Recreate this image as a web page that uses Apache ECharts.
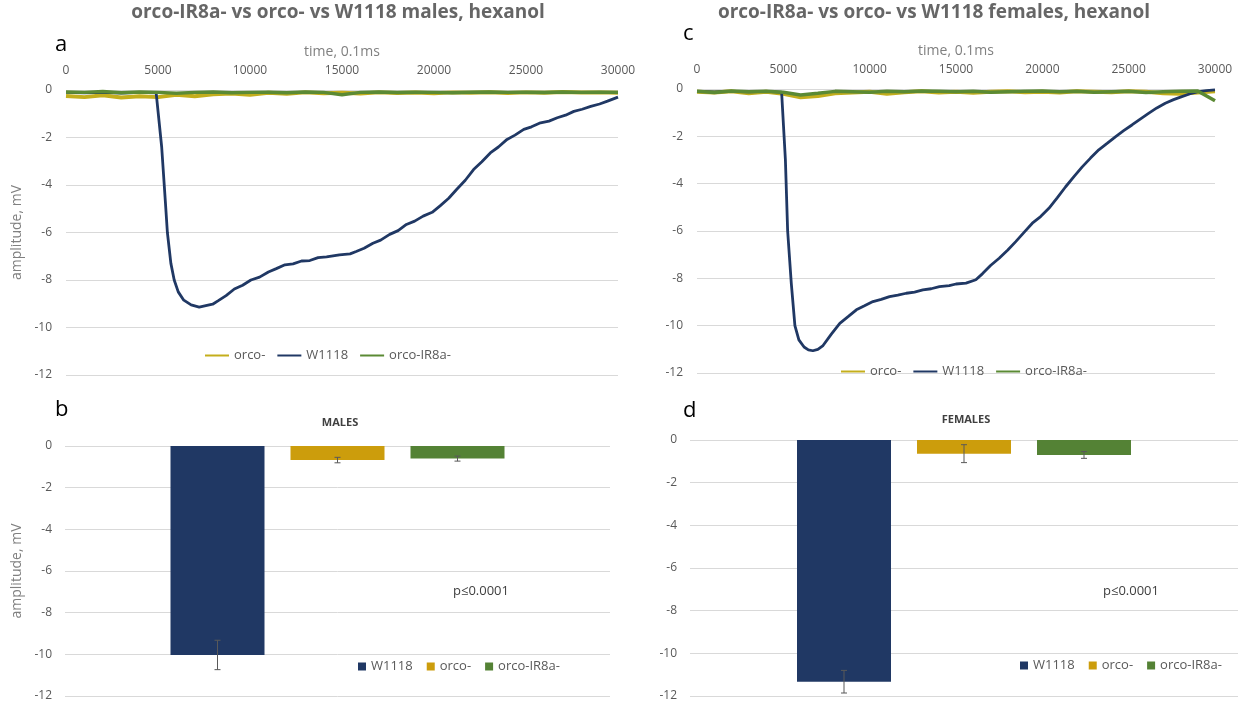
<!DOCTYPE html>
<html>
<head>
<meta charset="utf-8">
<script src="https://cdn.jsdelivr.net/npm/echarts@6/dist/echarts.min.js"></script>
<style>
html,body{margin:0;padding:0;background:#fff;}
#main{width:1248px;height:702px;}
</style>
</head>
<body>
<div id="main"></div>
<script>
// ---------- DATA ----------
const genotypes = ['W1118', 'orco-', 'orco-IR8a-'];

// W1118 trace, males (time in 0.1 ms, amplitude in mV)
const maleTime = [0,1000,2000,3000,4000,4900,5000,5200,5400,5510,5700,5880,6100,6400,6800,7240,7600,7970,8300,8700,9150,9600,10050,10520,11000,11430,11900,12340,12800,13250,13700,14160,14860,15440,15770,16200,16680,17100,17590,18050,18500,18950,19410,19900,20330,20800,21240,21700,22150,22600,23060,23500,23970,24400,24880,25300,25790,26250,26700,27150,27600,28050,28520,29000,29430,30000];
const maleW1118 = [-0.1,-0.12,-0.1,-0.13,-0.1,-0.12,-0.15,-2.4,-4.7,-6.0,-7.3,-8.0,-8.5,-8.85,-9.05,-9.14,-9.08,-9.02,-8.86,-8.66,-8.38,-8.22,-8.0,-7.88,-7.66,-7.52,-7.36,-7.32,-7.2,-7.18,-7.06,-7.03,-6.94,-6.9,-6.8,-6.66,-6.45,-6.32,-6.08,-5.92,-5.66,-5.52,-5.31,-5.15,-4.88,-4.56,-4.18,-3.8,-3.35,-3.02,-2.65,-2.4,-2.08,-1.9,-1.66,-1.55,-1.38,-1.31,-1.17,-1.06,-0.9,-0.81,-0.69,-0.59,-0.47,-0.3];

// W1118 trace, females
const femaleTime = [0,1000,2000,3000,4000,4900,5000,5120,5250,5460,5670,5900,6200,6450,6710,7000,7300,7780,8270,8750,9230,9700,10190,10670,11150,11630,12120,12600,13080,13560,14040,14610,15000,15580,16150,16540,17000,17500,18000,18460,18940,19420,19900,20380,20860,21350,21830,22310,22790,23270,23750,24230,24710,25190,25670,26150,26630,27120,27600,28080,28560,29040,29500,30000];
const femaleW1118 = [-0.1,-0.12,-0.1,-0.12,-0.1,-0.13,-0.15,-3.0,-6.0,-8.2,-10.0,-10.6,-10.9,-11.02,-11.06,-11.0,-10.84,-10.36,-9.9,-9.62,-9.33,-9.16,-8.98,-8.89,-8.77,-8.71,-8.63,-8.58,-8.49,-8.44,-8.35,-8.31,-8.24,-8.2,-8.06,-7.8,-7.46,-7.15,-6.8,-6.45,-6.06,-5.67,-5.39,-5.04,-4.6,-4.13,-3.7,-3.29,-2.92,-2.57,-2.3,-2.02,-1.76,-1.52,-1.27,-1.03,-0.8,-0.6,-0.45,-0.32,-0.2,-0.11,-0.07,-0.04];

// mutant traces (flat, noisy baselines)
const baseTime = [0,1000,2000,3000,4000,5000,6000,7000,8000,9000,10000,11000,12000,13000,14000,15000,16000,17000,18000,19000,20000,21000,22000,23000,24000,25000,26000,27000,28000,29000,30000];
const maleOrco = [-0.25,-0.3,-0.22,-0.32,-0.26,-0.3,-0.2,-0.26,-0.18,-0.15,-0.2,-0.12,-0.16,-0.1,-0.14,-0.12,-0.15,-0.1,-0.13,-0.11,-0.14,-0.1,-0.12,-0.09,-0.13,-0.1,-0.12,-0.08,-0.11,-0.1,-0.12];
const maleIR8a = [-0.08,-0.1,-0.06,-0.12,-0.08,-0.1,-0.14,-0.1,-0.08,-0.12,-0.1,-0.09,-0.12,-0.08,-0.1,-0.2,-0.1,-0.08,-0.11,-0.09,-0.1,-0.12,-0.09,-0.08,-0.1,-0.09,-0.11,-0.08,-0.1,-0.09,-0.1];
const femaleOrco = [-0.12,-0.15,-0.1,-0.18,-0.12,-0.2,-0.35,-0.3,-0.18,-0.15,-0.12,-0.2,-0.14,-0.1,-0.15,-0.12,-0.16,-0.12,-0.1,-0.14,-0.12,-0.15,-0.1,-0.12,-0.14,-0.1,-0.12,-0.18,-0.2,-0.15,-0.1];
const femaleIR8a = [-0.1,-0.15,-0.08,-0.12,-0.1,-0.14,-0.25,-0.18,-0.1,-0.12,-0.14,-0.1,-0.12,-0.08,-0.1,-0.12,-0.1,-0.14,-0.12,-0.1,-0.08,-0.12,-0.1,-0.14,-0.12,-0.1,-0.15,-0.12,-0.1,-0.08,-0.5];

// peak amplitudes (mean, error)
const maleMeans = [-9.95, -0.67, -0.6];
const maleErr = [0.7, 0.13, 0.12];
const femaleMeans = [-11.33, -0.64, -0.7];
const femaleErr = [0.53, 0.42, 0.16];

// ---------- STYLE ----------
const NAVY = '#203864', GOLD = '#cc9d0c', GREEN = '#548235';
const LINE_YEL = '#c4ae1c', LINE_GRN = '#5b8a34';
const FONT = '"Open Sans", Lato, sans-serif';
const AX = '#595959', GRIDC = '#d9d9d9';

function pair(t, v) { return t.map((x, i) => [x, v[i]]); }

const chart = echarts.init(document.getElementById('main'), null, {renderer: 'canvas'});

function traceX(grid) {
  return {
    type: 'value', gridIndex: grid, position: 'top', min: 0, max: 30000, interval: 5000,
    axisLine: {show: false}, axisTick: {show: false}, splitLine: {show: false},
    axisLabel: {color: AX, fontSize: 12, margin: 13, fontFamily: FONT, formatter: v => String(v)},
    name: 'time, 0.1ms', nameLocation: 'middle', nameGap: 31,
    nameTextStyle: {color: '#808080', fontSize: 14, fontFamily: FONT}
  };
}
function ampY(grid, withName, margin, gap) {
  return {
    type: 'value', gridIndex: grid, min: -12, max: 0, interval: 2,
    axisLine: {show: false}, axisTick: {show: false},
    axisLabel: {color: AX, fontSize: 12, margin: margin, fontFamily: FONT},
    splitLine: {lineStyle: {color: GRIDC, width: 1}},
    name: withName ? 'amplitude, mV' : '', nameLocation: 'middle', nameGap: gap, nameRotate: 90,
    nameTextStyle: {color: '#808080', fontSize: 14, fontFamily: FONT}
  };
}
function hiddenY(grid) {
  return {type: 'value', gridIndex: grid, min: -12, max: 0, interval: 2, show: false};
}
function barX(grid) {
  return {type: 'category', gridIndex: grid, data: genotypes, show: false};
}
function barSeries(means, xi, yi) {
  const cols = [NAVY, GOLD, GREEN];
  return genotypes.map((g, i) => ({
    type: 'bar', name: g, xAxisIndex: xi, yAxisIndex: yi, stack: 'b' + xi,
    barWidth: 94, itemStyle: {color: cols[i]},
    data: genotypes.map((_, j) => j === i ? means[j] : '-'),
    animation: false
  }));
}
function errSeries(means, errs, xi, yi) {
  return {
    type: 'custom', xAxisIndex: xi, yAxisIndex: yi, z: 10, animation: false,
    data: genotypes.map((g, i) => [i, means[i], errs[i]]),
    renderItem: function (params, api) {
      const x = api.value(0), m = api.value(1), e = api.value(2);
      const hi = api.coord([x, m + e]);
      const lo = api.coord([x, m - e]);
      const st = {stroke: '#595959', lineWidth: 1};
      return {type: 'group', children: [
        {type: 'line', shape: {x1: hi[0], y1: hi[1], x2: lo[0], y2: lo[1]}, style: st},
        {type: 'line', shape: {x1: hi[0] - 3, y1: hi[1], x2: hi[0] + 3, y2: hi[1]}, style: st},
        {type: 'line', shape: {x1: lo[0] - 3, y1: lo[1], x2: lo[0] + 3, y2: lo[1]}, style: st}
      ]};
    }
  };
}
function lineSeries(name, data, xi, color, width, z) {
  return {type: 'line', name: name, xAxisIndex: xi, yAxisIndex: xi, data: data,
    showSymbol: false, symbol: 'none', z: z, animation: false,
    lineStyle: {color: color, width: width}, itemStyle: {color: color}};
}
function txt(x, y, text, font, fill, align) {
  return {type: 'text', x: x, y: y, z: 100,
    style: {text: text, font: font, fill: fill, align: align || 'center', verticalAlign: 'middle'}};
}
const lineLegendItems = [
  {name: 'orco-', icon: 'rect', itemStyle: {color: LINE_YEL}},
  {name: 'W1118', icon: 'rect', itemStyle: {color: NAVY}},
  {name: 'orco-IR8a-', icon: 'rect', itemStyle: {color: LINE_GRN}}
];
const barLegendItems = [
  {name: 'W1118', icon: 'rect', itemStyle: {color: NAVY}},
  {name: 'orco-', icon: 'rect', itemStyle: {color: GOLD}},
  {name: 'orco-IR8a-', icon: 'rect', itemStyle: {color: GREEN}}
];
const legText = {color: AX, fontSize: 13, fontFamily: FONT};

const option = {
  backgroundColor: '#ffffff',
  animation: false,
  grid: [
    {left: 66, top: 90, width: 552, height: 285},
    {left: 697, top: 89, width: 518, height: 284},
    {left: 65, top: 446, width: 545, height: 252},
    {left: 690, top: 440, width: 548, height: 256},
    {left: 157.5, top: 446, width: 360, height: 252},
    {left: 784, top: 440, width: 360, height: 256}
  ],
  xAxis: [traceX(0), traceX(1), barX(2), barX(3), barX(4), barX(5)],
  yAxis: [ampY(0, true, 14, 42), ampY(1, false, 14, 40), ampY(2, true, 13, 41), ampY(3, false, 13, 40), hiddenY(4), hiddenY(5)],
  legend: [
    {data: lineLegendItems, left: 200, top: 344, itemWidth: 24, itemHeight: 2, itemGap: 12, textStyle: legText, selectedMode: false},
    {data: lineLegendItems, left: 836, top: 360, itemWidth: 24, itemHeight: 2, itemGap: 12, textStyle: legText, selectedMode: false},
    {data: barLegendItems, left: 353, top: 655, itemWidth: 8, itemHeight: 8, itemGap: 14, textStyle: legText, selectedMode: false},
    {data: barLegendItems, left: 1015, top: 654, itemWidth: 8, itemHeight: 8, itemGap: 14, textStyle: legText, selectedMode: false}
  ],
  series: [
    lineSeries('orco-', pair(baseTime, maleOrco), 0, LINE_YEL, 4, 2),
    lineSeries('W1118', pair(maleTime, maleW1118), 0, NAVY, 2.8, 3),
    lineSeries('orco-IR8a-', pair(baseTime, maleIR8a), 0, LINE_GRN, 3.5, 4),
    lineSeries('orco-', pair(baseTime, femaleOrco), 1, LINE_YEL, 4, 2),
    lineSeries('W1118', pair(femaleTime, femaleW1118), 1, NAVY, 2.8, 3),
    lineSeries('orco-IR8a-', pair(baseTime, femaleIR8a), 1, LINE_GRN, 3.5, 4),
    ...barSeries(maleMeans, 4, 4),
    errSeries(maleMeans, maleErr, 4, 4),
    ...barSeries(femaleMeans, 5, 5),
    errSeries(femaleMeans, femaleErr, 5, 5)
  ],
  graphic: [
    txt(338, 13, 'orco-IR8a- vs orco- vs W1118 males, hexanol', 'bold 19px ' + FONT, '#666666'),
    txt(934, 13, 'orco-IR8a- vs orco- vs W1118 females, hexanol', 'bold 19px ' + FONT, '#666666'),
    txt(55, 45, 'a', '22px ' + FONT, '#000', 'left'),
    txt(683, 34, 'c', '22px ' + FONT, '#000', 'left'),
    txt(55, 410, 'b', '22px ' + FONT, '#000', 'left'),
    txt(683, 411, 'd', '22px ' + FONT, '#000', 'left'),
    txt(340, 423, 'MALES', 'bold 11px ' + FONT, '#404040'),
    txt(966, 420, 'FEMALES', 'bold 11px ' + FONT, '#404040'),
    txt(481, 591, 'p≤0.0001', '13px ' + FONT, '#404040'),
    txt(1131, 591, 'p≤0.0001', '13px ' + FONT, '#404040')
  ]
};
chart.setOption(option);
</script>
</body>
</html>
